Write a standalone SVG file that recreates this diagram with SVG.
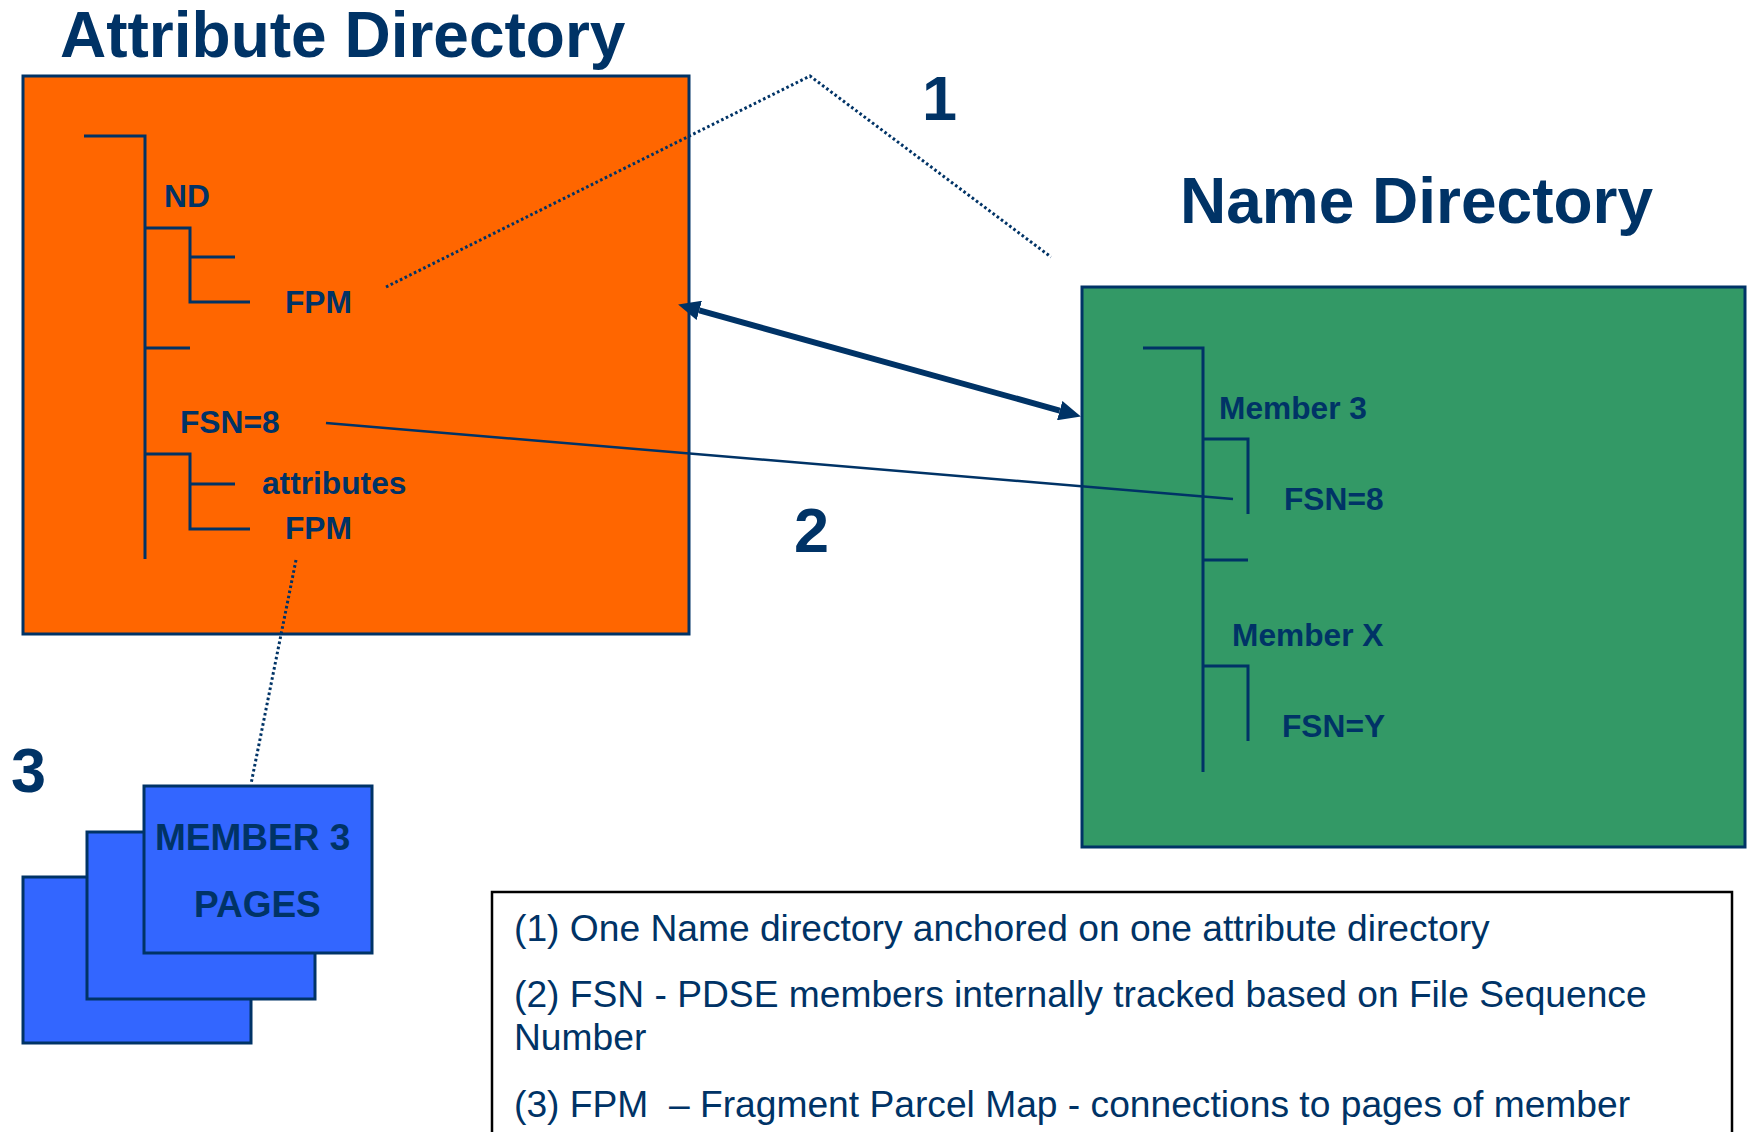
<svg xmlns="http://www.w3.org/2000/svg" width="1747" height="1132" viewBox="0 0 1747 1132">
  <style>
    .title { font-family: "Liberation Sans", Arial, sans-serif; font-weight: bold; font-size: 64px; fill: #003366; }
    .num { font-family: "Liberation Sans", Arial, sans-serif; font-weight: bold; font-size: 63px; fill: #003366; }
    .lbl { font-family: "Liberation Sans", Arial, sans-serif; font-weight: bold; font-size: 31.7px; fill: #003366; }
    .page { font-family: "Liberation Sans", Arial, sans-serif; font-weight: bold; font-size: 37px; fill: #003366; }
    .note { font-family: "Liberation Sans", Arial, sans-serif; font-size: 37.2px; fill: #003366; white-space: pre; }
    .tree { fill: none; stroke: #003366; stroke-width: 3; }
    .box { stroke: #003366; stroke-width: 3; }
    .dotted { fill: none; stroke: #003366; stroke-width: 3; stroke-dasharray: 2.6 2.6; }
  </style>
  <defs>
    <marker id="head" markerUnits="userSpaceOnUse" markerWidth="22" markerHeight="20" refX="0" refY="10" orient="auto-start-reverse">
      <path d="M0,0 L22,10 L0,20 z" fill="#003366"/>
    </marker>
  </defs>

  <rect width="1747" height="1132" fill="#ffffff"/>

  <!-- Attribute directory -->
  <g id="attribute-directory">
    <text class="title" x="60" y="57">Attribute Directory</text>
    <rect class="box" x="23" y="76" width="666" height="558" fill="#ff6600"/>
    <path class="tree" d="M84,136 H145 V559 M145,228 H190 V302 H250 M190,257 H235 M145,348 H190 M145,454 H190 V529 H250 M190,484 H235"/>
    <text class="lbl" x="164" y="207">ND</text>
    <text class="lbl" x="285" y="313">FPM</text>
    <text class="lbl" x="180" y="433">FSN=8</text>
    <text class="lbl" x="262" y="494">attributes</text>
    <text class="lbl" x="285" y="539">FPM</text>
  </g>

  <!-- Name directory -->
  <g id="name-directory">
    <text class="title" x="1180" y="223">Name Directory</text>
    <rect class="box" x="1082" y="287" width="663" height="560" fill="#339966"/>
    <path class="tree" d="M1143,348 H1203 V772 M1203,439 H1248 V514 M1203,560 H1248 M1203,666 H1248 V741"/>
    <text class="lbl" x="1219" y="419">Member 3</text>
    <text class="lbl" x="1284" y="510">FSN=8</text>
    <text class="lbl" x="1232" y="646">Member X</text>
    <text class="lbl" x="1282" y="737">FSN=Y</text>
  </g>

  <!-- Member pages stack -->
  <g id="member-pages">
    <rect class="box" x="23" y="877" width="228" height="166" fill="#3366ff"/>
    <rect class="box" x="87" y="832" width="228" height="167" fill="#3366ff"/>
    <rect class="box" x="144" y="786" width="228" height="167" fill="#3366ff"/>
    <text class="page" x="155" y="850">MEMBER 3</text>
    <text class="page" x="194" y="917">PAGES</text>
  </g>

  <!-- Step numbers -->
  <g id="step-labels">
    <text class="num" x="922" y="120">1</text>
    <text class="num" x="794" y="552">2</text>
    <text class="num" x="11" y="792">3</text>
  </g>

  <!-- Connectors -->
  <g id="connectors">
    <line x1="699.3" y1="310.4" x2="1059.7" y2="410.6" stroke="#003366" stroke-width="6" marker-start="url(#head)" marker-end="url(#head)"/>
    <line x1="326" y1="423" x2="1233" y2="499" stroke="#003366" stroke-width="2.5"/>
    <polyline class="dotted" points="386,287 810,76 1051,257"/>
    <line class="dotted" x1="296" y1="560" x2="251" y2="784"/>
  </g>

  <!-- Legend -->
  <g id="legend">
    <rect x="492" y="892" width="1240" height="270" fill="#ffffff" stroke="#000000" stroke-width="2.5"/>
    <text class="note" x="514" y="941">(1) One Name directory anchored on one attribute directory</text>
    <text class="note" x="514" y="1007">(2) FSN - PDSE members internally tracked based on File Sequence</text>
    <text class="note" x="514" y="1050">Number</text>
    <text class="note" x="514" y="1117">(3) FPM  – Fragment Parcel Map - connections to pages of member</text>
  </g>
</svg>
